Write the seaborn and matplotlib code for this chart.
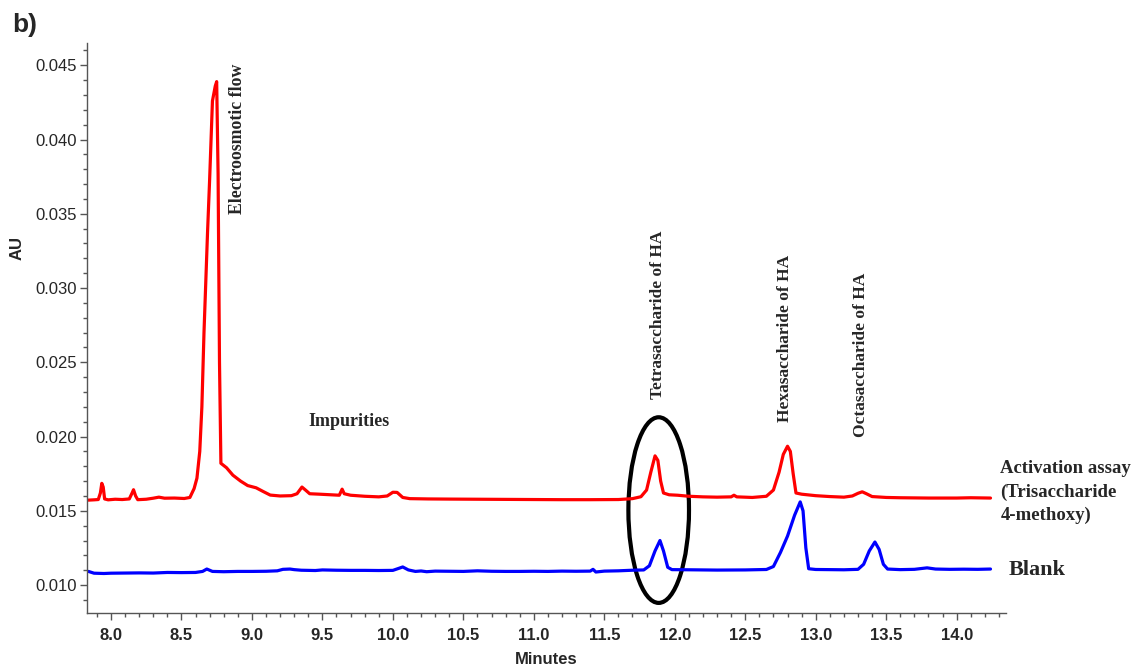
import matplotlib
matplotlib.use("Agg")
import matplotlib.pyplot as plt
from matplotlib.patches import Ellipse
from matplotlib.ticker import MultipleLocator, FormatStrFormatter
import seaborn as sns
import pandas as pd

# ---- data ----
red_t = [7.84, 7.88, 7.91, 7.925, 7.935, 7.945, 7.955, 7.98, 8.03, 8.08, 8.13, 8.15, 8.16, 8.175, 8.19,
         8.25, 8.30, 8.34, 8.38, 8.45, 8.52, 8.56, 8.59, 8.61, 8.63, 8.645, 8.66, 8.685, 8.70, 8.72,
         8.74, 8.75, 8.76, 8.77, 8.78, 8.82, 8.865, 8.92, 8.97, 9.03, 9.08, 9.13, 9.20, 9.28, 9.32,
         9.355, 9.38, 9.41, 9.48, 9.56, 9.62, 9.64, 9.655, 9.70, 9.80, 9.90, 9.96, 10.00, 10.03, 10.07,
         10.12, 10.25, 10.40, 10.60, 10.80, 11.00, 11.20, 11.40, 11.60, 11.70, 11.76, 11.80, 11.83, 11.86,
         11.88, 11.90, 11.92, 11.96, 12.02, 12.10, 12.20, 12.30, 12.40, 12.42, 12.44, 12.55, 12.65, 12.70,
         12.74, 12.77, 12.80, 12.82, 12.84, 12.86, 12.90, 13.00, 13.10, 13.20, 13.26, 13.30, 13.33, 13.36,
         13.40, 13.50, 13.60, 13.80, 14.00, 14.10, 14.24]
red_au = [0.01572, 0.01574, 0.01576, 0.01620, 0.01685, 0.01660, 0.01580, 0.01574, 0.01578, 0.01576, 0.01580,
          0.01620, 0.01642, 0.01600, 0.01575, 0.01578, 0.01585, 0.01592, 0.01585, 0.01586, 0.01583, 0.01590,
          0.01650, 0.01720, 0.01900, 0.02200, 0.02700, 0.03370, 0.03730, 0.04260, 0.04360, 0.04390, 0.03770,
          0.02500, 0.01820, 0.01790, 0.01740, 0.01700, 0.01670, 0.01655, 0.01630, 0.01606, 0.01600, 0.01602,
          0.01615, 0.01660, 0.01640, 0.01615, 0.01612, 0.01608, 0.01605, 0.01646, 0.01615, 0.01605, 0.01598,
          0.01594, 0.01600, 0.01625, 0.01624, 0.01590, 0.01582, 0.01580, 0.01579, 0.01578, 0.01577, 0.01576,
          0.01575, 0.01575, 0.01576, 0.01582, 0.01595, 0.01640, 0.01760, 0.01870, 0.01840, 0.01700, 0.01620,
          0.01608, 0.01605, 0.01598, 0.01594, 0.01592, 0.01594, 0.01605, 0.01594, 0.01590, 0.01598, 0.01640,
          0.01760, 0.01880, 0.01935, 0.01900, 0.01750, 0.01620, 0.01612, 0.01602, 0.01596, 0.01592, 0.01600,
          0.01618, 0.01628, 0.01615, 0.01596, 0.01590, 0.01588, 0.01586, 0.01586, 0.01588, 0.01586]

blue_t = [7.84, 7.88, 7.95, 8.00, 8.10, 8.20, 8.30, 8.40, 8.50, 8.60, 8.65, 8.68, 8.72, 8.80, 8.90, 9.00,
          9.10, 9.18, 9.22, 9.27, 9.30, 9.35, 9.45, 9.50, 9.60, 9.70, 9.80, 9.90, 10.00, 10.04, 10.07, 10.11,
          10.16, 10.20, 10.24, 10.30, 10.40, 10.50, 10.60, 10.70, 10.80, 10.90, 11.00, 11.10, 11.20, 11.30,
          11.40, 11.42, 11.44, 11.50, 11.60, 11.70, 11.78, 11.82, 11.86, 11.895, 11.92, 11.95, 11.98, 12.10,
          12.30, 12.50, 12.65, 12.70, 12.75, 12.80, 12.85, 12.89, 12.91, 12.93, 12.95, 13.00, 13.10, 13.20,
          13.30, 13.34, 13.38, 13.42, 13.45, 13.48, 13.51, 13.60, 13.70, 13.79, 13.85, 13.95, 14.05, 14.15, 14.24]
blue_au = [0.01092, 0.01080, 0.01078, 0.01080, 0.01081, 0.01082, 0.01081, 0.01085, 0.01084, 0.01085, 0.01092,
           0.01108, 0.01092, 0.01090, 0.01092, 0.01092, 0.01093, 0.01096, 0.01106, 0.01108, 0.01104, 0.01100,
           0.01098, 0.01102, 0.01100, 0.01099, 0.01099, 0.01098, 0.01099, 0.01112, 0.01122, 0.01102, 0.01092,
           0.01095, 0.01090, 0.01094, 0.01093, 0.01092, 0.01096, 0.01093, 0.01092, 0.01092, 0.01093, 0.01092,
           0.01094, 0.01093, 0.01094, 0.01106, 0.01088, 0.01094, 0.01096, 0.01100, 0.01102, 0.01130, 0.01230,
           0.01300, 0.01230, 0.01120, 0.01104, 0.01103, 0.01101, 0.01102, 0.01105, 0.01125, 0.01220, 0.01330,
           0.01470, 0.01560, 0.01500, 0.01250, 0.01110, 0.01105, 0.01104, 0.01103, 0.01106, 0.01140, 0.01230,
           0.01290, 0.01240, 0.01140, 0.01108, 0.01104, 0.01106, 0.01116, 0.01108, 0.01106, 0.01107, 0.01106,
           0.01108]

peak_labels = ["Electroosmotic flow", "Tetrasaccharide of HA", "Hexasaccharide of HA", "Octasaccharide of HA"]
series_labels = ["Activation assay\n(Trisaccharide\n4-methoxy)", "Blank"]
x_label = "Minutes"
y_label = "AU"
panel_label = "b)"

red_df = pd.DataFrame({"t": red_t, "au": red_au})
blue_df = pd.DataFrame({"t": blue_t, "au": blue_au})

sns.set_style("ticks")
plt.rcParams["font.family"] = ["Liberation Sans", "DejaVu Sans"]

fig = plt.figure(figsize=(11.38, 6.69), dpi=100)
ax = fig.add_axes([87 / 1138, 1 - 613 / 669, (1006 - 87) / 1138, (613 - 43) / 669])

sns.lineplot(data=red_df, x="t", y="au", color="#ff0000", linewidth=2.3, ax=ax, sort=False)
sns.lineplot(data=blue_df, x="t", y="au", color="#0000ff", linewidth=2.3, ax=ax, sort=False)

ax.set_xlim(7.83, 14.35)
ax.set_ylim(0.00812, 0.0465)
ax.xaxis.set_major_locator(MultipleLocator(0.5))
ax.xaxis.set_minor_locator(MultipleLocator(0.1))
ax.yaxis.set_major_locator(MultipleLocator(0.005))
ax.yaxis.set_minor_locator(MultipleLocator(0.001))
ax.xaxis.set_major_formatter(FormatStrFormatter("%.1f"))
ax.yaxis.set_major_formatter(FormatStrFormatter("%.3f"))

for s in ["top", "right"]:
    ax.spines[s].set_visible(False)
for s in ["left", "bottom"]:
    ax.spines[s].set_color("#555555")
    ax.spines[s].set_linewidth(1.0)

ax.tick_params(axis="both", which="major", direction="out", length=5, width=1, color="#555555")
ax.tick_params(axis="both", which="minor", direction="out", length=3, width=1, color="#555555")
ax.tick_params(axis="y", labelsize=12, pad=2)
ax.tick_params(axis="x", labelsize=12, pad=6)
for lb in ax.get_xticklabels():
    lb.set_fontweight("bold")

ax.set_xlabel(x_label, fontsize=12, fontweight="bold", labelpad=6)
ax.set_ylabel(y_label, fontsize=12, fontweight="bold")
ax.yaxis.set_label_coords(-0.068, 0.64)

serif = ["Liberation Serif", "DejaVu Serif"]
ax.text(8.90, 0.0451, peak_labels[0], rotation=90, ha="center", va="top",
        family=serif, fontweight="bold", fontsize=12.8)
ax.text(9.69, 0.0210, "Impurities", ha="center", va="center",
        family=serif, fontweight="bold", fontsize=13)
ax.text(11.88, 0.0225, peak_labels[1], rotation=90, ha="center", va="bottom",
        family=serif, fontweight="bold", fontsize=12.5)
ax.text(12.78, 0.0210, peak_labels[2], rotation=90, ha="center", va="bottom",
        family=serif, fontweight="bold", fontsize=12.5)
ax.text(13.32, 0.0200, peak_labels[3], rotation=90, ha="center", va="bottom",
        family=serif, fontweight="bold", fontsize=12.5)

ax.text(14.31, 0.0184, series_labels[0], ha="left", va="top", family=serif,
        fontweight="bold", fontsize=13.5, linespacing=1.45, clip_on=False)
ax.text(14.37, 0.0110, series_labels[1], ha="left", va="center", family=serif,
        fontweight="bold", fontsize=16, clip_on=False)

ax.add_patch(Ellipse((11.886, 0.01505), 0.43, 0.0125, fill=False, edgecolor="black", linewidth=3))

fig.text(12 / 1138, 1 - 25 / 669, panel_label, fontsize=19, fontweight="bold", va="center", ha="left")

fig.savefig("out.png", dpi=100)
